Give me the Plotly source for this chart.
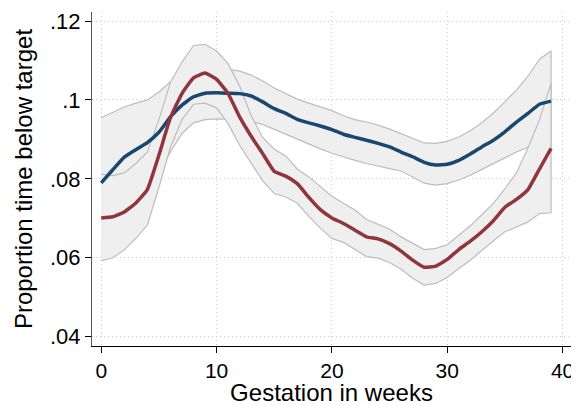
import plotly.graph_objects as go

weeks = list(range(40))

# mean proportion of time below target, by gestation week
blue_mean = [0.0790, 0.0823, 0.0855, 0.0874, 0.0892, 0.0918, 0.0957, 0.0987, 0.1008, 0.1017,
             0.1018, 0.1017, 0.1016, 0.1010, 0.0995, 0.0978, 0.0966, 0.0951, 0.0942, 0.0934,
             0.0925, 0.0913, 0.0905, 0.0898, 0.0890, 0.0881, 0.0868, 0.0856, 0.0842, 0.0835,
             0.0837, 0.0847, 0.0863, 0.0881, 0.0898, 0.0919, 0.0944, 0.0966, 0.0989, 0.0997]
blue_hi = [0.0955, 0.0968, 0.0982, 0.0992, 0.1000, 0.1020, 0.1046, 0.1062, 0.1074, 0.1080,
           0.1080, 0.1078, 0.1073, 0.1063, 0.1048, 0.1030, 0.1015, 0.1002, 0.0992, 0.0982,
           0.0973, 0.0960, 0.0950, 0.0944, 0.0936, 0.0926, 0.0914, 0.0903, 0.0891, 0.0890,
           0.0895, 0.0906, 0.0922, 0.0942, 0.0967, 0.0995, 0.1025, 0.1060, 0.1103, 0.1124]
blue_lo = [0.0625, 0.0678, 0.0728, 0.0756, 0.0784, 0.0816, 0.0868, 0.0915, 0.0942, 0.0950,
           0.0952, 0.0951, 0.0950, 0.0945, 0.0938, 0.0925, 0.0912, 0.0902, 0.0888, 0.0876,
           0.0865, 0.0856, 0.0847, 0.0839, 0.0832, 0.0826, 0.0820, 0.0804, 0.0789, 0.0784,
           0.0788, 0.0797, 0.0809, 0.0824, 0.0840, 0.0854, 0.0868, 0.0880, 0.0880, 0.0870]

red_mean = [0.0701, 0.0704, 0.0716, 0.0739, 0.0773, 0.0860, 0.0955, 0.1016, 0.1056, 0.1068,
            0.1052, 0.1016, 0.0957, 0.0908, 0.0864, 0.0819, 0.0807, 0.0788, 0.0753, 0.0722,
            0.0701, 0.0687, 0.0670, 0.0653, 0.0648, 0.0636, 0.0617, 0.0594, 0.0576, 0.0579,
            0.0596, 0.0621, 0.0642, 0.0666, 0.0694, 0.0728, 0.0748, 0.0773, 0.0825, 0.0877]
red_hi = [0.0812, 0.0808, 0.0815, 0.0839, 0.0868, 0.0950, 0.1045, 0.1096, 0.1138, 0.1141,
          0.1124, 0.1092, 0.1035, 0.0960, 0.0905, 0.0875, 0.0858, 0.0825, 0.0805, 0.0780,
          0.0756, 0.0738, 0.0721, 0.0697, 0.0685, 0.0673, 0.0653, 0.0638, 0.0621, 0.0624,
          0.0633, 0.0657, 0.0681, 0.0709, 0.0738, 0.0775, 0.0815, 0.0878, 0.0950, 0.1042]
red_lo = [0.0592, 0.0600, 0.0620, 0.0649, 0.0683, 0.0778, 0.0880, 0.0950, 0.0989, 0.0992,
          0.0980, 0.0940, 0.0885, 0.0840, 0.0795, 0.0763, 0.0754, 0.0738, 0.0705, 0.0675,
          0.0649, 0.0639, 0.0622, 0.0603, 0.0599, 0.0588, 0.0571, 0.0548, 0.0531, 0.0535,
          0.0550, 0.0573, 0.0594, 0.0619, 0.0643, 0.0666, 0.0678, 0.0691, 0.0712, 0.0714]

y_ticks = [0.04, 0.06, 0.08, 0.10, 0.12]
y_labels = [".04", ".06", ".08", ".1", ".12"]
x_ticks = [0, 10, 20, 30, 40]

BAND_FILL = "#efefef"
BAND_LINE = "#bdbdbd"
BLUE = "#1a476f"
RED = "#90353b"
GRID = "#cccccc"
FONT = "Liberation Sans, Arial, sans-serif"

fig = go.Figure()

# confidence bands (red band drawn over blue band, like the original)
for hi, lo in [(blue_hi, blue_lo), (red_hi, red_lo)]:
    fig.add_trace(go.Scatter(
        x=weeks + weeks[::-1],
        y=hi + lo[::-1],
        fill="toself",
        fillcolor=BAND_FILL,
        line=dict(color=BAND_LINE, width=1.2),
        mode="lines",
        hoverinfo="skip",
    ))

fig.add_trace(go.Scatter(x=weeks, y=blue_mean, mode="lines",
                         line=dict(color=BLUE, width=3.5, shape="spline", smoothing=0.4)))
fig.add_trace(go.Scatter(x=weeks, y=red_mean, mode="lines",
                         line=dict(color=RED, width=3.5, shape="spline", smoothing=0.4)))

# the page body has an 8px margin, so the figure is 8px smaller than the window
fig.update_layout(
    width=571,
    height=398,
    plot_bgcolor="white",
    paper_bgcolor="white",
    showlegend=False,
    margin=dict(l=84, r=8, t=4, b=60),
    font=dict(family=FONT, color="black"),
)

fig.update_xaxes(
    range=[-0.8, 40.73],
    tickvals=x_ticks,
    ticks="outside",
    ticklen=6,
    tickcolor="black",
    showline=True,
    linecolor="black",
    linewidth=1,
    showgrid=True,
    gridcolor=GRID,
    griddash="1px,3px",
    gridwidth=1,
    zeroline=False,
    automargin=False,
    tickfont=dict(size=21),
    title=dict(text="Gestation in weeks", font=dict(size=24), standoff=5),
)
fig.update_yaxes(
    range=[0.03765, 0.12228],
    tickvals=y_ticks,
    ticktext=y_labels,
    ticks="outside",
    ticklen=6,
    tickcolor="black",
    showline=True,
    linecolor="#555555",
    linewidth=1,
    showgrid=True,
    gridcolor=GRID,
    griddash="1px,3px",
    gridwidth=1,
    zeroline=False,
    automargin=False,
    tickfont=dict(size=22),
    title=dict(text="Proportion time below target", font=dict(size=24), standoff=10),
)

fig.write_html("out.html")
